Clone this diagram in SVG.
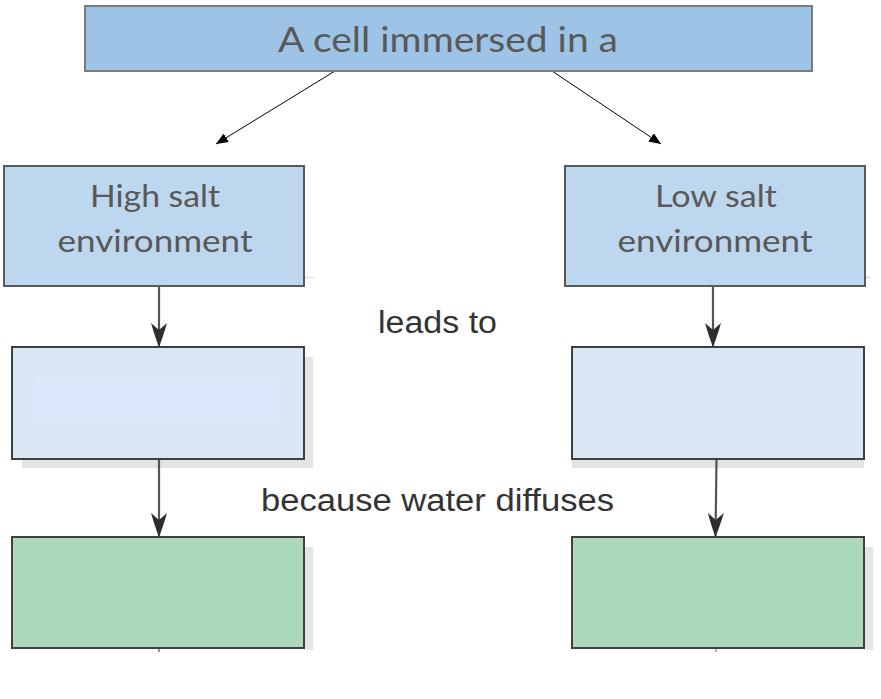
<svg xmlns="http://www.w3.org/2000/svg" width="881" height="699" viewBox="0 0 881 699">
<style>
.cal{font-family:Lato,"Open Sans","Noto Sans",sans-serif;fill:#595959;text-anchor:middle}
.ari{font-family:"Liberation Sans",Arial,sans-serif;fill:#333333;text-anchor:middle}
.top{fill:#9dc3e6;stroke:#7a7a7a;stroke-width:2}
.env{fill:#bdd7ee;stroke:#5a5a5a;stroke-width:2}
.mid{fill:#dae6f4;stroke:#404040;stroke-width:2}
.res{fill:#acd9b9;stroke:#404040;stroke-width:2}
.shadow{fill:#e4e4e4}
.thin{stroke:#000;stroke-width:1;fill:none}
.gray{stroke:#555;stroke-width:2.2;fill:none}
</style>
<defs>
<marker id="tri" markerUnits="userSpaceOnUse" viewBox="0 0 12 10" refX="12" refY="5" markerWidth="12" markerHeight="10" orient="auto">
<path d="M0,0 L12,5 L0,10 Z" fill="#000"/>
</marker>
<marker id="swt" markerUnits="userSpaceOnUse" viewBox="0 0 24 16" refX="24" refY="8" markerWidth="24" markerHeight="16" orient="auto">
<path d="M0,0 Q14,4 24,8 Q14,12 0,16 L7,8 Z" fill="#2e2e2e"/>
</marker>
</defs>

<g id="shadows">
<rect class="shadow" x="304" y="357" width="9" height="111"/>
<rect class="shadow" x="22" y="459" width="291" height="9"/>
<rect class="shadow" x="572" y="459" width="292" height="9"/>
<rect class="shadow" x="304" y="547" width="9" height="103"/>
<rect class="shadow" x="864" y="547" width="9" height="103"/>
<line x1="304" y1="277.5" x2="314" y2="277.5" stroke="#e2e2e2" stroke-width="2"/>
<line x1="865" y1="277.5" x2="870" y2="277.5" stroke="#e2e2e2" stroke-width="2"/>
</g>

<g id="connectors">
<line class="thin" x1="335" y1="71" x2="216" y2="144" marker-end="url(#tri)"/>
<line class="thin" x1="552" y1="71" x2="661" y2="144" marker-end="url(#tri)"/>
<line class="gray" x1="159" y1="287" x2="159" y2="347" marker-end="url(#swt)"/>
<line class="gray" x1="713" y1="287" x2="713" y2="347" marker-end="url(#swt)"/>
<line class="gray" x1="159" y1="459" x2="159" y2="537" marker-end="url(#swt)"/>
<line class="gray" x1="716.5" y1="459" x2="715.5" y2="537" marker-end="url(#swt)"/>
<line x1="159" y1="648" x2="159" y2="652" stroke="#777" stroke-width="1.5"/>
<line x1="716" y1="648" x2="716" y2="652" stroke="#999" stroke-width="1.5"/>
</g>

<g id="top">
<rect class="top" x="85" y="6" width="727" height="65"/>
<text class="cal" x="448" y="52" font-size="35" textLength="340" lengthAdjust="spacingAndGlyphs">A cell immersed in a</text>
</g>

<g id="high">
<rect class="env" x="4" y="166" width="300" height="120"/>
<text class="cal" x="155" y="207" font-size="30" textLength="130" lengthAdjust="spacingAndGlyphs">High salt</text>
<text class="cal" x="155" y="252" font-size="30" textLength="195" lengthAdjust="spacingAndGlyphs">environment</text>
</g>

<g id="low">
<rect class="env" x="565" y="166" width="300" height="120"/>
<text class="cal" x="716" y="207" font-size="30" textLength="122" lengthAdjust="spacingAndGlyphs">Low salt</text>
<text class="cal" x="715" y="252" font-size="30" textLength="195" lengthAdjust="spacingAndGlyphs">environment</text>
</g>

<g id="high-mid">
<rect class="mid" x="12" y="347" width="292" height="112"/>
<rect x="37" y="377" width="242" height="47" fill="#dde7fc"/>
</g>

<g id="low-mid">
<rect class="mid" x="572" y="347" width="292" height="112"/>
</g>

<g id="high-res">
<rect class="res" x="12" y="537" width="292" height="111"/>
</g>

<g id="low-res">
<rect class="res" x="572" y="537" width="292" height="111"/>
</g>

<g id="labels">
<text class="ari" x="437.5" y="333" font-size="31" textLength="119" lengthAdjust="spacingAndGlyphs">leads to</text>
<text class="ari" x="437.5" y="511" font-size="31" textLength="353" lengthAdjust="spacingAndGlyphs">because water diffuses</text>
</g>
</svg>
